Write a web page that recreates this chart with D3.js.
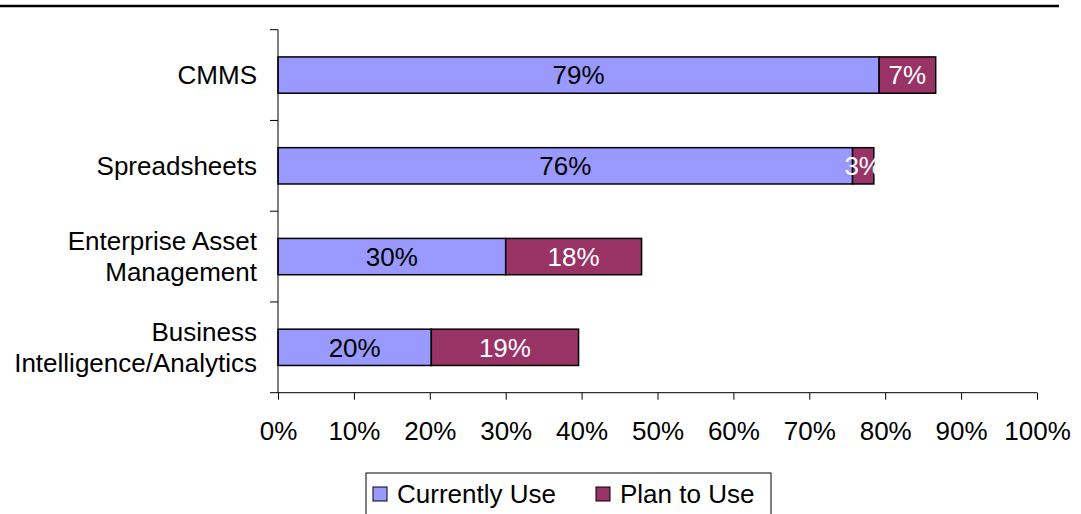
<!DOCTYPE html>
<html>
<head>
<meta charset="utf-8">
<script src="https://cdn.jsdelivr.net/npm/d3@7"></script>
<style>
  html, body { margin: 0; padding: 0; background: #fff; }
  svg { display: block; }
  text { font-family: "Liberation Sans", Arial, sans-serif; }
</style>
</head>
<body>
<svg id="chart" width="1081" height="514"></svg>
<script>
// ---- data ----
const categories = ["CMMS", "Spreadsheets", "Enterprise Asset Management", "Business Intelligence/Analytics"];
const categoryLines = [["CMMS"], ["Spreadsheets"], ["Enterprise Asset", "Management"], ["Business", "Intelligence/Analytics"]];
const currentlyUse = [79.2, 75.7, 30.0, 20.2];
const planToUse = [7.45, 2.8, 17.9, 19.4];
const seriesNames = ["Currently Use", "Plan to Use"];
const seriesColors = ["#9999FF", "#993366"];
const labelColors = ["#000000", "#FFFFFF"];
const xTicks = [0, 10, 20, 30, 40, 50, 60, 70, 80, 90, 100];

const svg = d3.select("#chart");
const fontSize = 26;

// top rule
svg.append("line")
  .attr("x1", 0).attr("x2", 1059).attr("y1", 6).attr("y2", 6)
  .attr("stroke", "#000").attr("stroke-width", 2.5);

const x = d3.scaleLinear().domain([0, 100]).range([278, 1037]);
const y = d3.scaleBand().domain(categories).range([29.7, 392.7])
  .paddingInner(0.6).paddingOuter(0.3);

// stacked data
const rows = categories.map((c, i) => ({ cat: c, vals: [currentlyUse[i], planToUse[i]] }));
const stack = d3.stack().keys([0, 1]).value((d, k) => d.vals[k]);
const stacked = stack(rows);

const g = svg.append("g");
stacked.forEach((layer, si) => {
  g.selectAll(null).data(layer).enter().append("rect")
    .attr("x", d => x(d[0]))
    .attr("y", d => y(d.data.cat))
    .attr("width", d => x(d[1]) - x(d[0]))
    .attr("height", y.bandwidth())
    .attr("fill", seriesColors[si])
    .attr("stroke", "#000")
    .attr("stroke-width", 1.5);
});
stacked.forEach((layer, si) => {
  g.selectAll(null).data(layer).enter().append("text")
    .attr("x", d => (x(d[0]) + x(d[1])) / 2)
    .attr("y", d => y(d.data.cat) + y.bandwidth() / 2)
    .attr("dy", "0.36em")
    .attr("text-anchor", "middle")
    .attr("font-size", fontSize)
    .attr("fill", labelColors[si])
    .text(d => d3.format(".0f")(d[1] - d[0]) + "%");
});

// y axis (category) line & ticks at band boundaries
const yAxisX = x(0);
const yTop = y.range()[0], yBot = y.range()[1];
svg.append("line").attr("x1", yAxisX).attr("x2", yAxisX).attr("y1", yTop).attr("y2", yBot)
  .attr("stroke", "#000").attr("stroke-width", 1);
const boundaries = d3.range(categories.length + 1).map(i => yTop + i * y.step());
svg.selectAll(null).data(boundaries).enter().append("line")
  .attr("x1", yAxisX - 8).attr("x2", yAxisX).attr("y1", d => d).attr("y2", d => d)
  .attr("stroke", "#000").attr("stroke-width", 1);

// category labels
categories.forEach((c, i) => {
  const lines = categoryLines[i];
  const cy = y(c) + y.bandwidth() / 2;
  const lh = 31;
  const t = svg.append("text").attr("text-anchor", "end").attr("font-size", fontSize).attr("fill", "#000");
  lines.forEach((ln, j) => {
    t.append("tspan").attr("x", 257)
      .attr("y", cy + (j - (lines.length - 1) / 2) * lh)
      .attr("dy", "0.36em")
      .text(ln);
  });
});

// x axis
const xAxis = d3.axisBottom(x).tickValues(xTicks).tickSize(7).tickPadding(22)
  .tickFormat(d => d + "%");
const xg = svg.append("g").attr("transform", `translate(0,${yBot})`).call(xAxis);
xg.select(".domain").attr("stroke", "#000").attr("d", `M${x(0)},0H${x(100)}`);
xg.selectAll(".tick line").attr("stroke", "#000");
xg.selectAll(".tick text").attr("font-size", fontSize).attr("fill", "#000")
  .attr("font-family", "Liberation Sans, Arial, sans-serif");

// legend
const lg = svg.append("g");
lg.append("rect").attr("x", 366).attr("y", 473).attr("width", 405).attr("height", 50)
  .attr("fill", "#fff").attr("stroke", "#000").attr("stroke-width", 1);
const legendX = [373, 596];
seriesNames.forEach((n, i) => {
  lg.append("rect").attr("x", legendX[i]).attr("y", 487).attr("width", 14).attr("height", 14)
    .attr("fill", seriesColors[i]).attr("stroke", "#000").attr("stroke-width", 1);
  lg.append("text").attr("x", legendX[i] + 24).attr("y", 494).attr("dy", "0.36em")
    .attr("font-size", fontSize).attr("fill", "#000").text(n);
});
</script>
</body>
</html>
